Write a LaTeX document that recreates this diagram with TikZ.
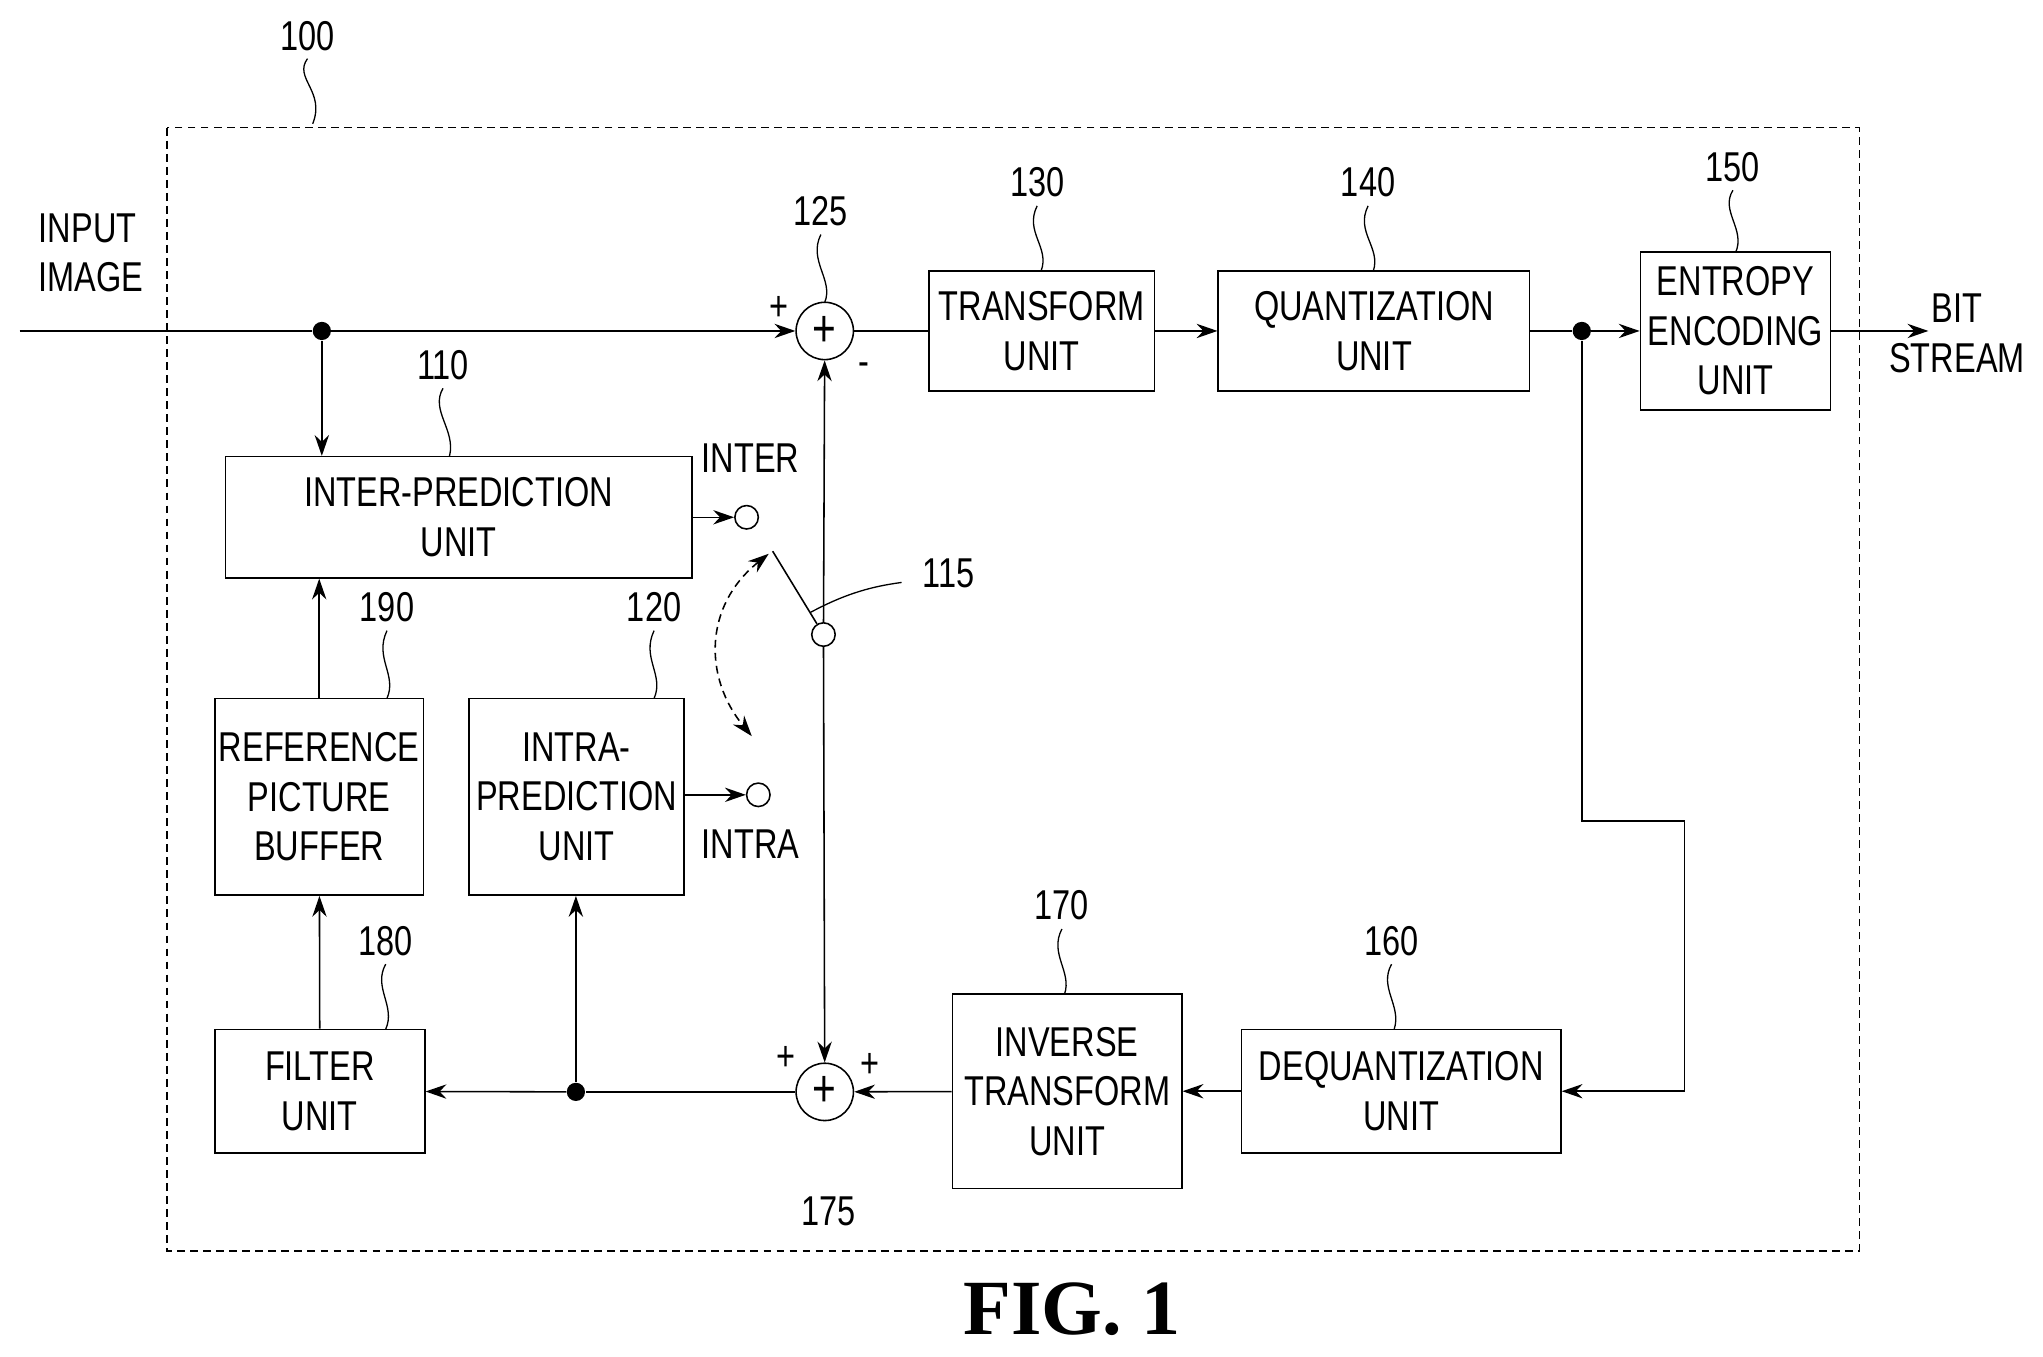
\documentclass[tikz,border=0pt]{standalone}
\usepackage{fontspec}
\setmainfont{Liberation Sans}[FakeStretch=0.78]
\newfontfamily\figfont{Liberation Serif}
\usetikzlibrary{arrows.meta}
\begin{document}
\begin{tikzpicture}[x=0.5pt,y=-0.5pt,
  box/.style={draw,line width=0.6pt,inner sep=0pt,align=center,font=\fontsize{16}{19}\selectfont},
  lab/.style={font=\fontsize{16}{19}\selectfont},
  num/.style={font=\fontsize{16}{19}\selectfont},
  ar/.style={-{Stealth[length=8pt,width=5.5pt]},line width=0.6pt},
  ln/.style={line width=0.6pt},
  dot/.style={circle,fill,inner sep=0pt,minimum size=7pt},
  sw/.style={circle,draw,inner sep=0pt,minimum size=9pt,line width=0.6pt},
  add/.style={circle,draw,line width=0.6pt,inner sep=0pt,minimum size=22pt,font=\fontsize{20}{20}\selectfont},
  lead/.style={line width=0.5pt}]
\useasboundingbox (0,0) rectangle (1568,1041);
\draw[dash pattern=on 3pt off 2pt,line width=0.6pt] (128,98) rectangle (1427,960);
\node[num] (n100) at (236,28) {100};
\draw[lead] (236,45) .. controls (225,60) and (250,70) .. (240,95);

\node[lab,align=left] (in) at (70,194) {INPUT\\IMAGE};
\coordinate (start) at (15,254);
\node[dot] (d1) at (247,254) {};
\node[add] (a125) at (633,254) {+};
\node[num] (n125) at (630,162) {125};
\draw[lead] (630,180) .. controls (620,200) and (640,215) .. (633,232);
\node[lab] at (598,237) {+};
\node[lab] at (663,283) {-};

\node[box,minimum width=179pt,minimum height=46.5pt] (inter) at (352,397) {INTER-PREDICTION\\UNIT};
\node[num] (n110) at (340,280) {110};
\draw[lead] (340,298) .. controls (330,315) and (350,330) .. (345,350);

\node[box,minimum width=86.5pt,minimum height=46pt] (tr) at (799.5,254) {TRANSFORM\\UNIT};
\node[num] at (796,140) {130};
\draw[lead] (796,158) .. controls (786,178) and (806,190) .. (799,208);
\node[box,minimum width=119.5pt,minimum height=46pt] (qu) at (1054.5,254) {QUANTIZATION\\UNIT};
\node[num] at (1050,140) {140};
\draw[lead] (1050,158) .. controls (1040,178) and (1060,190) .. (1054,208);
\node[box,minimum width=73pt,minimum height=60.5pt] (en) at (1332,254) {ENTROPY\\ENCODING\\UNIT};
\node[num] at (1330,128) {150};
\draw[lead] (1330,146) .. controls (1320,162) and (1340,176) .. (1332,194);
\coordinate (out) at (1480,254);
\node[lab,align=center] at (1502,256) {BIT\\STREAM};
\node[dot] (d2) at (1214,254) {};

\node[box,minimum width=80pt,minimum height=75.5pt] (ref) at (245,611.5) {REFERENCE\\PICTURE\\BUFFER};
\node[num] at (297,466) {190};
\draw[lead] (297,484) .. controls (287,505) and (305,518) .. (297,536);
\node[box,minimum width=82.5pt,minimum height=75.5pt] (intra) at (442.5,611.5) {INTRA-\\PREDICTION\\UNIT};
\node[num] at (502,466) {120};
\draw[lead] (502,484) .. controls (492,505) and (510,518) .. (502,536);
\node[box,minimum width=80.5pt,minimum height=47.5pt] (fil) at (245.5,837.5) {FILTER\\UNIT};
\node[num] at (296,722) {180};
\draw[lead] (296,740) .. controls (286,758) and (304,772) .. (296,790);
\node[box,minimum width=88pt,minimum height=74.5pt] (itr) at (819,837.5) {INVERSE\\TRANSFORM\\UNIT};
\node[num] at (815,695) {170};
\draw[lead] (815,713) .. controls (805,732) and (823,746) .. (817,763);
\node[box,minimum width=122.5pt,minimum height=47.5pt] (dq) at (1075.5,837.5) {DEQUANTIZATION\\UNIT};
\node[num] at (1068,722) {160};
\draw[lead] (1068,740) .. controls (1058,758) and (1076,772) .. (1070,790);

\node[add] (a175) at (633,838) {+};
\node[num] at (636,930) {175};
\node[lab] at (603,812) {+};
\node[lab] at (668,818) {+};

\node[sw] (s1) at (573,397) {};
\node[sw] (s2) at (582,610) {};
\node[sw] (sp) at (632,487) {};
\node[lab] at (576,352) {INTER};
\node[lab] at (576,648) {INTRA};
\node[num] at (728,440) {115};
\coordinate (swend) at (593,423);
\draw[ln] (sp) -- (swend);
\draw[lead] (622,470) .. controls (650,455) and (670,450) .. (692,447);
\draw[dash pattern=on 3pt off 2pt,line width=0.6pt,{Stealth[length=8pt,width=5.5pt]}-{Stealth[length=8pt,width=5.5pt]}] (590,425) .. controls (540,465) and (540,520) .. (577,565);
\node[dot] (d3) at (442,838) {};

\draw[ln] (start) -- (d1);
\draw[ar] (d1) -- (a125);
\draw[ar] (d1) -- (inter.north -| d1);
\draw[ln] (a125) -- (tr);
\draw[ar] (tr) -- (qu);
\draw[ln] (qu) -- (d2);
\draw[ar] (d2) -- (en);
\draw[ar] (en) -- (out);
\draw[ar] (sp) -- (a125);
\draw[ar] (sp) -- (a175);
\draw[ar] (inter.east |- s1) -- (s1);
\draw[ar] (intra.east |- s2) -- (s2);
\draw[ar] (d2) |- (1293,630) |- (dq.east);
\draw[ar] (dq) -- (itr);
\draw[ar] (itr) -- (a175);
\draw[ln] (a175) -- (d3);
\draw[ar] (d3) -- (fil);
\draw[ar] (d3) -- (intra.south -| d3);
\draw[ar] (fil) -- (ref);
\draw[ar] (ref.north) -- (inter.south -| ref.north);

\node[font=\figfont\fontsize{30}{30}\selectfont\bfseries] at (823,1005) {FIG. 1};
\end{tikzpicture}
\end{document}
